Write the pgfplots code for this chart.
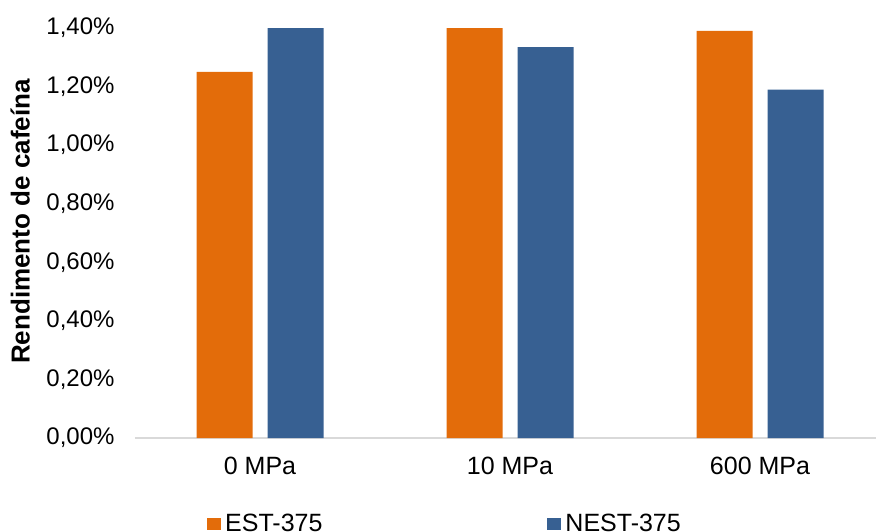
\documentclass[border=0pt]{standalone}
\usepackage{pgfplots}
\pgfplotsset{compat=1.18}
\usepackage{fontspec}
\setmainfont{Liberation Sans}
\definecolor{estc}{RGB}{227,108,10}
\definecolor{nestc}{RGB}{55,96,146}
\definecolor{axc}{RGB}{217,217,217}
\begin{document}
\begin{tikzpicture}
\path[use as bounding box] (-135pt,-93pt) rectangle (741pt,438pt);
\begin{axis}[
  scale only axis,
  width=741pt, height=410pt,
  xmin=-0.5, xmax=2.464,
  ymin=0, ymax=1.4,
  clip=false,
  ybar=15pt, bar width=56pt,
  axis x line*=bottom,
  axis y line*=left,
  x axis line style={draw=axc, line width=1.5pt, -},
  y axis line style={draw=none},
  xtick={0,1,2},
  xticklabels={0 MPa,10 MPa,600 MPa},
  ytick={0,0.2,0.4,0.6,0.8,1.0,1.2,1.4},
  yticklabels={{0,00\%},{0,20\%},{0,40\%},{0,60\%},{0,80\%},{1,00\%},{1,20\%},{1,40\%}},
  major tick length=0pt,
  tick label style={font=\fontsize{25}{29}\selectfont},
  xticklabel style={yshift=-16pt},
  yticklabel style={xshift=-17pt, font=\fontsize{24}{28}\selectfont},
  ylabel={Rendimento de cafeína},
  every axis y label/.style={at={(axis description cs:-0.155,0.528)}, rotate=90, anchor=center, font=\bfseries\fontsize{26}{30}\selectfont},
  legend columns=2,
  legend style={draw=none, fill=none, at={(axis cs:-0.5,0)}, anchor=north west, xshift=69pt, yshift=-72pt,
    font=\fontsize{25}{29}\selectfont,
    /tikz/every even column/.append style={column sep=223pt}},
  legend image code/.code={\fill[#1] (0pt,-6pt) rectangle (14pt,6pt); \path (16pt,0pt);},
]
\addplot[fill=estc, draw=none] coordinates {(0,1.25) (1,1.40) (2,1.39)};
\addplot[fill=nestc, draw=none] coordinates {(0,1.40) (1,1.335) (2,1.19)};
\legend{EST-375,NEST-375}
\end{axis}
\end{tikzpicture}
\end{document}
